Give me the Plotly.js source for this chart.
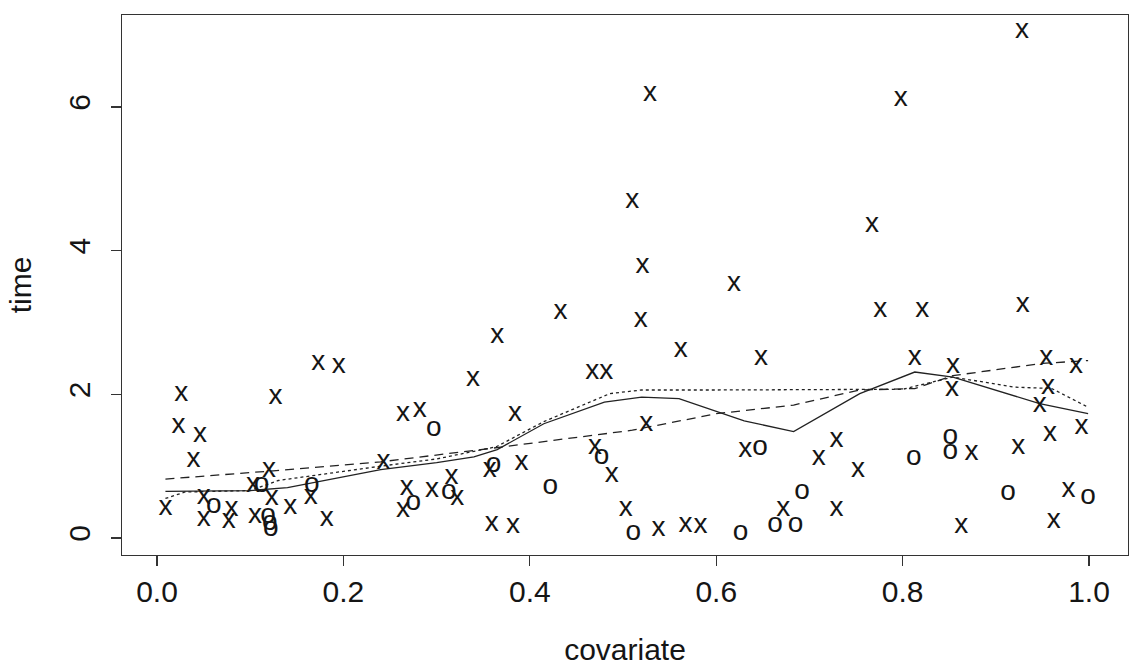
<!DOCTYPE html>
<html>
<head>
<meta charset="utf-8">
<script src="https://cdn.plot.ly/plotly-3.0.1.min.js"></script>
<style>
  html, body { margin: 0; padding: 0; background: #ffffff; }
  #chart { width: 1135px; height: 669px; }
</style>
</head>
<body>
<div id="chart"></div>
<script>
// Uncensored observations (drawn as "x")
const crossX = [0.009, 0.026, 0.023, 0.046, 0.039, 0.050, 0.050, 0.080, 0.077, 0.105,
                0.103, 0.120, 0.123, 0.127, 0.143, 0.165, 0.182, 0.173, 0.195, 0.243,
                0.264, 0.282, 0.268, 0.264, 0.295, 0.316, 0.322, 0.339, 0.357, 0.359,
                0.365, 0.382, 0.384, 0.391, 0.433, 0.467, 0.482, 0.470, 0.488, 0.503,
                0.510, 0.521, 0.519, 0.525, 0.529, 0.538, 0.562, 0.567, 0.583, 0.619,
                0.631, 0.648, 0.672, 0.710, 0.729, 0.729, 0.752, 0.767, 0.776, 0.798,
                0.813, 0.821, 0.854, 0.853, 0.863, 0.874, 0.924, 0.928, 0.929, 0.947,
                0.954, 0.956, 0.958, 0.962, 0.978, 0.986, 0.992];
const crossY = [0.42, 2.00, 1.56, 1.43, 1.09, 0.57, 0.27, 0.41, 0.23, 0.30,
                0.74, 0.94, 0.55, 1.96, 0.43, 0.57, 0.26, 2.44, 2.39, 1.06,
                1.73, 1.78, 0.69, 0.39, 0.67, 0.85, 0.55, 2.22, 0.94, 0.20,
                2.81, 0.16, 1.73, 1.04, 3.14, 2.31, 2.31, 1.27, 0.87, 0.41,
                4.69, 3.78, 3.03, 1.59, 6.18, 0.13, 2.61, 0.18, 0.16, 3.53,
                1.22, 2.50, 0.41, 1.11, 1.36, 0.41, 0.94, 4.36, 3.17, 6.11,
                2.51, 3.17, 2.39, 2.08, 0.16, 1.18, 1.27, 7.06, 3.25, 1.85,
                2.51, 2.10, 1.45, 0.23, 0.67, 2.40, 1.55];

// Censored observations (drawn as "o")
const circleX = [0.061, 0.112, 0.119, 0.121, 0.122, 0.166, 0.275, 0.297, 0.313, 0.361,
                 0.422, 0.477, 0.511, 0.626, 0.647, 0.663, 0.685, 0.692, 0.812, 0.851,
                 0.851, 0.913, 0.999];
const circleY = [0.45, 0.74, 0.31, 0.21, 0.13, 0.74, 0.48, 1.52, 0.64, 1.01,
                 0.71, 1.13, 0.065, 0.065, 1.25, 0.18, 0.18, 0.64, 1.11, 1.41,
                 1.20, 0.62, 0.57];

// Smooth curves
const solidX = [0.009, 0.10, 0.14, 0.18, 0.24, 0.30, 0.34, 0.365, 0.415, 0.48, 0.52, 0.56, 0.63, 0.683, 0.754, 0.813, 0.854, 0.947, 0.999];
const solidY = [0.65, 0.66, 0.70, 0.80, 0.95, 1.05, 1.13, 1.23, 1.59, 1.89, 1.96, 1.94, 1.63, 1.48, 2.01, 2.31, 2.24, 1.87, 1.73];

const dottedX = [0.009, 0.03, 0.10, 0.13, 0.24, 0.30, 0.364, 0.415, 0.486, 0.52, 0.60, 0.70, 0.80, 0.854, 0.92, 0.96, 0.999];
const dottedY = [0.55, 0.64, 0.66, 0.80, 1.00, 1.10, 1.27, 1.62, 2.01, 2.06, 2.06, 2.06, 2.07, 2.24, 2.10, 2.08, 1.82];

const dashedX = [0.009, 0.12, 0.24, 0.36, 0.51, 0.60, 0.683, 0.754, 0.813, 0.854, 0.95, 0.999];
const dashedY = [0.82, 0.93, 1.06, 1.25, 1.50, 1.73, 1.85, 2.06, 2.08, 2.26, 2.43, 2.47];

const xTicks = [0, 0.2, 0.4, 0.6, 0.8, 1.0];
const xTickText = ['0.0', '0.2', '0.4', '0.6', '0.8', '1.0'];
const yTicks = [0, 2, 4, 6];
const yTickText = ['0', '2', '4', '6'];

const ink = '#151515';
const fontFam = '"Liberation Sans", Arial, Helvetica, sans-serif';

const traces = [
  { x: solidX, y: solidY, mode: 'lines', line: { color: '#222222', width: 1.3 }, hoverinfo: 'skip' },
  { x: dottedX, y: dottedY, mode: 'lines', line: { color: '#222222', width: 1.3, dash: 'dot' }, hoverinfo: 'skip' },
  { x: dashedX, y: dashedY, mode: 'lines', line: { color: '#222222', width: 1.3, dash: '9px,6px' }, hoverinfo: 'skip' },
  { x: crossX, y: crossY, mode: 'text', text: crossX.map(() => 'x'), textposition: 'middle center',
    textfont: { family: fontFam, size: 28, color: ink }, hoverinfo: 'x+y' },
  { x: circleX, y: circleY, mode: 'text', text: circleX.map(() => 'o'), textposition: 'middle center',
    textfont: { family: fontFam, size: 28, color: ink }, hoverinfo: 'x+y' }
];

const layout = {
  width: 1135, height: 669,
  margin: { l: 122, r: 7, t: 15, b: 114, pad: 0 },
  paper_bgcolor: '#ffffff', plot_bgcolor: '#ffffff',
  showlegend: false,
  font: { family: fontFam, color: ink, size: 30 },
  xaxis: {
    range: [-0.0376, 1.0418], tickvals: xTicks, ticktext: xTickText,
    ticks: 'outside', ticklen: 10, tickwidth: 1.2, tickcolor: '#333333',
    ticklabelstandoff: 0,
    showline: true, mirror: true, linecolor: '#333333', linewidth: 1.3,
    showgrid: false, zeroline: false, automargin: false,
    tickfont: { family: fontFam, size: 30, color: ink },
    title: { text: 'covariate', font: { family: fontFam, size: 30, color: ink }, standoff: 31 }
  },
  yaxis: {
    range: [-0.237, 7.28], tickvals: yTicks, ticktext: yTickText, tickangle: -90,
    ticks: 'outside', ticklen: 10, tickwidth: 1.2, tickcolor: '#333333',
    ticklabelstandoff: 9,
    showline: true, mirror: true, linecolor: '#333333', linewidth: 1.3,
    showgrid: false, zeroline: false, automargin: false,
    tickfont: { family: fontFam, size: 30, color: ink },
    title: { text: 'time', font: { family: fontFam, size: 30, color: ink }, standoff: 22 }
  }
};

Plotly.newPlot('chart', traces, layout, { displayModeBar: false, staticPlot: true });
</script>
</body>
</html>
